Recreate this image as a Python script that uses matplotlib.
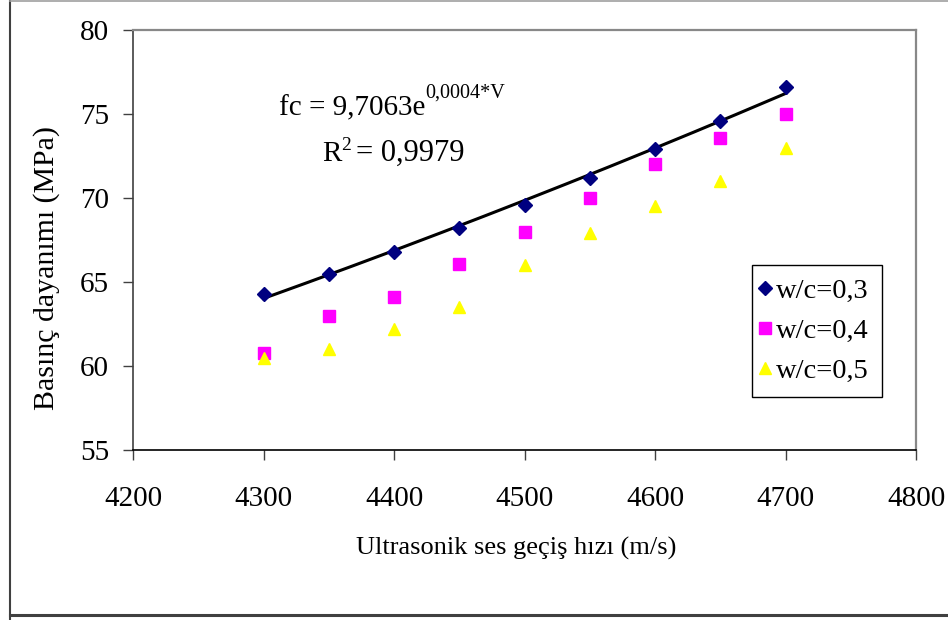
import numpy as np
import matplotlib
matplotlib.use("Agg")
import matplotlib.pyplot as plt
from matplotlib.lines import Line2D

# Ultrasonic pulse velocity (m/s) and compressive strength (MPa)
velocity = [4300, 4350, 4400, 4450, 4500, 4550, 4600, 4650, 4700]
strength_w03 = [64.3, 65.5, 66.8, 68.2, 69.6, 71.2, 72.9, 74.6, 76.6]
strength_w04 = [60.8, 63.0, 64.1, 66.1, 68.0, 70.0, 72.0, 73.6, 75.0]
strength_w05 = [60.5, 61.0, 62.2, 63.5, 66.0, 67.9, 69.5, 71.0, 73.0]
series_labels = ["w/c=0,3", "w/c=0,4", "w/c=0,5"]

x_ticks = [4200, 4300, 4400, 4500, 4600, 4700, 4800]
y_ticks = [55, 60, 65, 70, 75, 80]

plt.rcParams["font.family"] = ["Liberation Serif", "DejaVu Serif"]

W, H = 948, 620
fig = plt.figure(figsize=(W / 100, H / 100), dpi=100)
fig.patch.set_facecolor("white")

# outer chart frame
fig.add_artist(Line2D([10 / W, 10 / W], [0, 1], color="#404040", lw=1.5,
                      transform=fig.transFigure))
fig.add_artist(Line2D([10 / W, 1], [5 / H, 5 / H], color="#404040", lw=2.2,
                      transform=fig.transFigure))
fig.add_artist(Line2D([10 / W, 1], [1 - 0.5 / H, 1 - 0.5 / H], color="#a0a0a0",
                      lw=1.2, transform=fig.transFigure))

left, right, top, bottom = 133, 916, 30, 450
ax = fig.add_axes([left / W, 1 - bottom / H, (right - left) / W, (bottom - top) / H])

v = np.array(velocity, dtype=float)
fc = np.array(strength_w03, dtype=float)

# exponential trendline through the w/c=0,3 series
b, ln_a = np.polyfit(v, np.log(fc), 1)
v_line = np.linspace(v.min(), v.max(), 200)
ax.plot(v_line, np.exp(ln_a) * np.exp(b * v_line), color="black", lw=2.2,
        zorder=2)

ax.plot(velocity, strength_w03, linestyle="none", marker="D", markersize=7,
        color="#000080", label=series_labels[0], zorder=3)
ax.plot(velocity, strength_w04, linestyle="none", marker="s", markersize=8,
        color="#ff00ff", label=series_labels[1], zorder=3)
ax.plot(velocity, strength_w05, linestyle="none", marker="^", markersize=9,
        color="#ffff00", label=series_labels[2], zorder=3)

ax.set_xlim(4200, 4800)
ax.set_ylim(55, 80)
ax.set_xticks(x_ticks)
ax.set_yticks(y_ticks)
ax.tick_params(axis="both", direction="out", length=7.2, width=1,
               color="#404040", labelsize=21)
ax.tick_params(axis="x", pad=18.5)
ax.tick_params(axis="y", pad=10)

for side in ("top", "right"):
    ax.spines[side].set_color("#888888")
    ax.spines[side].set_linewidth(1.6)
ax.spines["left"].set_color("#404040")
ax.spines["bottom"].set_color("black")
for side in ("left", "bottom"):
    ax.spines[side].set_linewidth(1.2)

ax.set_xlabel("Ultrasonik ses geçiş hızı (m/s)", fontsize=19)
ax.xaxis.set_label_coords(0.4898, (bottom - 555) / (bottom - top))
ax.xaxis.label.set_va("baseline")
ax.set_ylabel("Basınç dayanımı (MPa)", fontsize=21.5)
ax.yaxis.set_label_coords((60 - left) / (right - left),
                          (bottom - 267.5) / (bottom - top))

# trendline equation
eq = ax.text(4312, 74.94, "fc = 9,7063e", fontsize=21, ha="left",
             va="baseline")
ax.annotate("0,0004*V", xy=(1.0, 75.99), xycoords=(eq, "data"), fontsize=14.5,
            ha="left", va="baseline")
r2 = ax.text(4345, 72.2, "R", fontsize=21, ha="left", va="baseline")
r2s = ax.annotate("2", xy=(1.0, 72.86), xycoords=(r2, "data"), fontsize=14,
                  ha="left", va="baseline")
ax.annotate("= 0,9979", xy=(1.0, 72.2), xycoords=(r2s, "data"),
            xytext=(3.5, 0), textcoords="offset points", fontsize=22,
            ha="left", va="baseline")

leg = ax.legend(loc="upper left", bbox_to_anchor=((752 - left) / (right - left),
                                                  1 - (265 - top) / (bottom - top)),
                fontsize=20.5, frameon=True, fancybox=False, framealpha=1,
                edgecolor="black", handlelength=0.0, handletextpad=0.4,
                borderpad=0.45, labelspacing=0.5, borderaxespad=0)
leg.get_frame().set_linewidth(1.0)

fig.savefig("out.png", dpi=100, facecolor="white")
